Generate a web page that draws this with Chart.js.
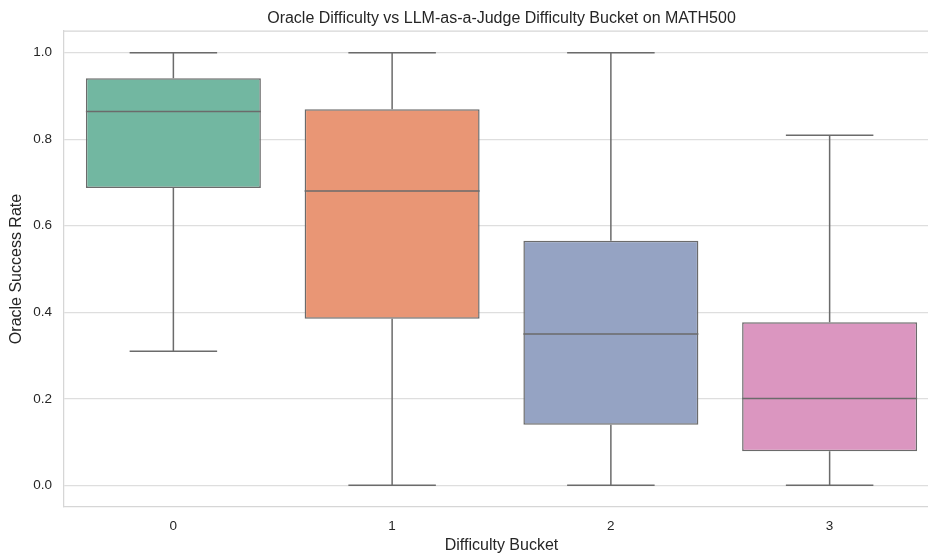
<!DOCTYPE html>
<html>
<head>
<meta charset="utf-8">
<script src="https://cdn.jsdelivr.net/npm/chart.js@4"></script>
<style>
  html, body { margin: 0; padding: 0; background: #ffffff; overflow: hidden; }
  #wrap { width: 928px; height: 558px; overflow: hidden; }
  #box { width: 960px; height: 558px; }
</style>
</head>
<body>
<div id="wrap"><div id="box"><canvas id="chart"></canvas></div></div>
<script>
const buckets = ["0", "1", "2", "3"];
const whiskerLow = [0.31, 0.0, 0.0, 0.0];
const q1 = [0.687, 0.385, 0.140, 0.079];
const median = [0.864, 0.680, 0.350, 0.201];
const q3 = [0.941, 0.869, 0.565, 0.377];
const whiskerHigh = [1.0, 1.0, 1.0, 0.809];
const yTicks = [0.0, 0.2, 0.4, 0.6, 0.8, 1.0];
const boxColors = ["#72b7a1", "#e99675", "#95a3c3", "#db96c0"];
const titleText = "Oracle Difficulty vs LLM-as-a-Judge Difficulty Bucket on MATH500";

const lineColor = "#6b6b6b";
const textColor = "#262626";
const font = "'Liberation Sans', Arial, sans-serif";

// whiskers, caps, medians, top spine and a title centred on the plot area
const boxPlotLines = {
    id: "boxPlotLines",
    afterDatasetsDraw(chart) {
        const ctx = chart.ctx;
        const x = chart.scales.x;
        const y = chart.scales.y;
        const bars = chart.getDatasetMeta(0).data;
        ctx.save();
        ctx.strokeStyle = lineColor;
        ctx.lineWidth = 1.5;
        buckets.forEach((b, i) => {
            const cx = x.getPixelForValue(i);
            const w = bars[i].width;
            const cap = w / 4;
            ctx.beginPath();
            ctx.moveTo(cx, y.getPixelForValue(q3[i]));
            ctx.lineTo(cx, y.getPixelForValue(whiskerHigh[i]));
            ctx.moveTo(cx - cap, y.getPixelForValue(whiskerHigh[i]));
            ctx.lineTo(cx + cap, y.getPixelForValue(whiskerHigh[i]));
            ctx.moveTo(cx, y.getPixelForValue(q1[i]));
            ctx.lineTo(cx, y.getPixelForValue(whiskerLow[i]));
            ctx.moveTo(cx - cap, y.getPixelForValue(whiskerLow[i]));
            ctx.lineTo(cx + cap, y.getPixelForValue(whiskerLow[i]));
            ctx.moveTo(cx - w / 2, y.getPixelForValue(median[i]));
            ctx.lineTo(cx + w / 2, y.getPixelForValue(median[i]));
            ctx.stroke();
        });
        const a = chart.chartArea;
        ctx.strokeStyle = "#d6d6d6";
        ctx.lineWidth = 1.25;
        ctx.beginPath();
        ctx.moveTo(a.left, a.top);
        ctx.lineTo(a.right, a.top);
        ctx.stroke();

        ctx.fillStyle = textColor;
        ctx.font = "16px " + font;
        ctx.textAlign = "center";
        ctx.textBaseline = "alphabetic";
        ctx.fillText(titleText, (a.left + a.right) / 2, 23);
        ctx.restore();
    }
};

document.addEventListener("DOMContentLoaded", () => {
    const ctx = document.getElementById("chart").getContext("2d");
    new Chart(ctx, {
        type: "bar",
        data: {
            labels: buckets,
            datasets: [
                {
                    data: buckets.map((b, i) => [q1[i], q3[i]]),
                    backgroundColor: boxColors,
                    borderColor: lineColor,
                    borderWidth: 1.5,
                    borderSkipped: false,
                    categoryPercentage: 0.8,
                    barPercentage: 1.0,
                },
            ],
        },
        options: {
            responsive: true,
            maintainAspectRatio: false,
            animation: false,
            layout: { padding: { left: 0, right: 21, top: 31, bottom: 0 } },
            plugins: {
                legend: { display: false },
                tooltip: { enabled: false },
                title: { display: false },
            },
            scales: {
                x: {
                    grid: { display: false, drawTicks: false },
                    border: { display: true, color: "#d6d6d6", width: 1.25 },
                    ticks: {
                        color: textColor,
                        padding: 11,
                        font: { family: font, size: 13.5 },
                    },
                    title: {
                        display: true,
                        text: "Difficulty Bucket",
                        color: textColor,
                        font: { family: font, size: 16 },
                        padding: { top: 3, bottom: 3 },
                    },
                    afterFit(scale) {
                        scale.height = 51;
                    },
                },
                y: {
                    min: -0.05,
                    max: 1.05,
                    afterBuildTicks(scale) {
                        scale.ticks = yTicks.map((v) => ({ value: v }));
                    },
                    grid: { color: "#dedede", lineWidth: 1.25, drawTicks: false },
                    border: { display: true, color: "#d6d6d6", width: 1.25 },
                    ticks: {
                        color: textColor,
                        padding: 12,
                        font: { family: font, size: 13.5 },
                        callback: function (value) {
                            return value.toFixed(1);
                        },
                    },
                    title: {
                        display: true,
                        text: "Oracle Success Rate",
                        color: textColor,
                        font: { family: font, size: 16 },
                        padding: { top: 7, bottom: 4 },
                    },
                    afterFit(scale) {
                        scale.width = 64;
                    },
                },
            },
        },
        plugins: [boxPlotLines],
    });
});
</script>
</body>
</html>
